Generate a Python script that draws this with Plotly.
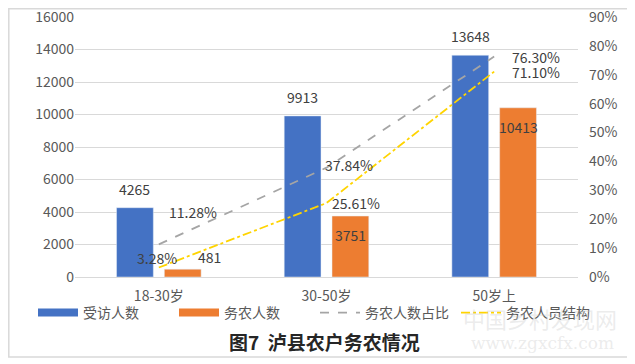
import plotly.graph_objects as go

categories = ["18-30岁", "30-50岁", "50岁上"]
interviewed = [4265, 9913, 13648]
farming = [481, 3751, 10413]
farming_ratio = [11.28, 37.84, 76.30]
farming_structure = [3.28, 25.61, 71.10]

FONT = "Noto Sans CJK SC, Noto Sans, sans-serif"
BLUE, ORANGE, GRAY, YELLOW = "#4472C4", "#ED7D31", "#A5A5A5", "#FFD400"
OFF = 8  # page body margin
TOP = 17  # page y of the plot top
W, H = 635 - OFF, 364 - OFF
L, T = 75 - OFF, TOP - OFF
R, B = W - (578 - OFF), H - (277 - OFF)
PW, PH = W - L - R, H - T - B

def px_x(x):
    return (x - 75) / PW

def px_y(y):
    return (277 - y) / PH

LABEL_FONT = dict(size=14, color="#404040", family=FONT)

fig = go.Figure()
fig.add_trace(go.Bar(x=categories, y=interviewed, name="受访人数",
                     marker=dict(color=BLUE), showlegend=False))
fig.add_trace(go.Bar(x=categories, y=farming, name="务农人数",
                     marker=dict(color=ORANGE), showlegend=False))
fig.add_trace(go.Scatter(x=categories, y=farming_ratio, name="务农人数占比", yaxis="y2",
                         mode="lines", line=dict(color=GRAY, width=1.8, dash="dash"),
                         showlegend=False, cliponaxis=False))
fig.add_trace(go.Scatter(x=categories, y=farming_structure, name="务农人员结构", yaxis="y2",
                         mode="lines", line=dict(color=YELLOW, width=1.8, dash="dashdot"),
                         showlegend=False, cliponaxis=False))

# legend-only entries (wide swatches like the original)
for name, color, width, dash in [("受访人数", BLUE, 8, "solid"), ("务农人数", ORANGE, 8, "solid"),
                                 ("务农人数占比", GRAY, 1.8, "dash"), ("务农人员结构", YELLOW, 1.8, "dashdot")]:
    fig.add_trace(go.Scatter(x=[None], y=[None], mode="lines", name=name,
                             line=dict(color=color, width=width, dash=dash), showlegend=True))

annotations = []
# bar value labels
for i, c in enumerate(categories):
    annotations.append(dict(x=c, y=interviewed[i], xref="x", yref="y", text=str(interviewed[i]),
                            xshift=-24, yshift=19, showarrow=False, font=LABEL_FONT))
orange_shift = [(51, 12), (24, -19), (24, -19)]
for i, c in enumerate(categories):
    annotations.append(dict(x=c, y=farming[i], xref="x", yref="y", text=str(farming[i]),
                            xshift=orange_shift[i][0], yshift=orange_shift[i][1],
                            showarrow=False, font=LABEL_FONT))
# line labels
ratio_shift = [(34, 32), (22, 3), (42, 0)]
struct_shift = [(-2, 10), (29, 0), (42, 0)]
for i, c in enumerate(categories):
    annotations.append(dict(x=c, y=farming_ratio[i], xref="x", yref="y2", text=f"{farming_ratio[i]:.2f}%",
                            xshift=ratio_shift[i][0], yshift=ratio_shift[i][1], showarrow=False, font=LABEL_FONT))
    annotations.append(dict(x=c, y=farming_structure[i], xref="x", yref="y2", text=f"{farming_structure[i]:.2f}%",
                            xshift=struct_shift[i][0], yshift=struct_shift[i][1], showarrow=False, font=LABEL_FONT))

annotations += [
    dict(text="<b>图7  泸县农户务农情况</b>", xref="paper", yref="paper",
         x=px_x(324), y=px_y(341), xanchor="center", yanchor="middle", showarrow=False,
         font=dict(size=19, color="#262626", family=FONT)),
    dict(text="中国乡村发现网", xref="paper", yref="paper",
         x=px_x(540), y=px_y(318), xanchor="center", yanchor="middle", showarrow=False,
         font=dict(size=22, color="rgba(200,200,200,0.35)", family=FONT)),
    dict(text="www.zgxcfx.com", xref="paper", yref="paper",
         x=px_x(542), y=px_y(343), xanchor="center", yanchor="middle", showarrow=False,
         font=dict(size=17, color="rgba(200,200,200,0.35)", family="DejaVu Serif")),
]

fig.update_layout(
    width=W, height=H,
    margin=dict(l=L, r=R, t=T, b=B, autoexpand=False),
    paper_bgcolor="white", plot_bgcolor="white",
    font=dict(family=FONT, size=14, color="#595959"),
    barmode="group", bargap=0.43, bargroupgap=0.23,
    showlegend=True,
    legend=dict(orientation="h", x=px_x(33), y=px_y(313), xanchor="left", yanchor="middle",
                font=dict(size=14, color="#595959", family=FONT), bgcolor="rgba(0,0,0,0)",
                itemwidth=40, entrywidth=86, entrywidthmode="pixels"),
    xaxis=dict(showgrid=False, showline=True, linecolor="#D9D9D9", ticks="", ticklabelstandoff=6,
               tickfont=dict(size=14, color="#595959", family=FONT)),
    yaxis=dict(range=[0, 16000], dtick=2000, tickformat="d", showgrid=True, gridcolor="#D9D9D9",
               zeroline=False, showline=False, ticks="", ticklabeloverflow="allow",
               tickfont=dict(size=14, color="#595959", family=FONT)),
    yaxis2=dict(range=[0, 90], dtick=10, ticksuffix="%", overlaying="y", side="right",
                showgrid=False, zeroline=False, showline=False, ticks="", ticklabelstandoff=10,
                ticklabeloverflow="allow",
                tickfont=dict(size=14, color="#595959", family=FONT)),
    shapes=[dict(type="rect", xref="paper", yref="paper",
                 x0=px_x(8.8), x1=px_x(628), y0=px_y(357), y1=px_y(8.8),
                 line=dict(color="#D9D9D9", width=1.5), fillcolor="rgba(0,0,0,0)", layer="below")],
    annotations=annotations,
)

fig.write_html("out.html")
